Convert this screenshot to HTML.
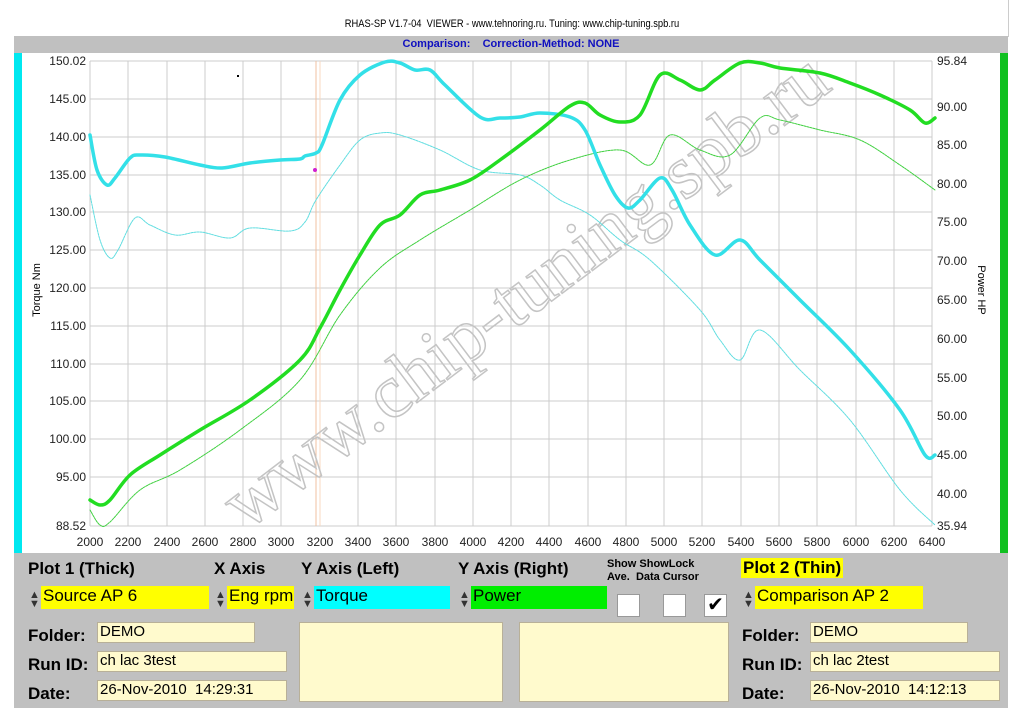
<!DOCTYPE html>
<html><head><style>
body{margin:0;width:1024px;height:723px;background:#fff;position:relative;overflow:hidden;font-family:"Liberation Sans",sans-serif}
.a{position:absolute}
.lbl{font-weight:bold;font-size:17px;color:#000}
.box{background:#fffacd;border:1px solid #b8b098;font-size:15px;padding-left:2px;box-sizing:border-box}
.sel{font-size:17px;box-sizing:border-box;padding-left:2px}
.arr{font-size:11px;line-height:9px;color:#333}
.cb{background:#fff;width:21px;height:21px;border:1px solid #999}
</style></head><body>
<div class="a" style="left:14px;top:0;width:994px;height:37px;border-right:1px solid #ccc"></div>
<div class="a" style="left:0;top:18px;width:1024px;text-align:center;font-size:11px;transform:scaleX(.85)">RHAS-SP V1.7-04&nbsp; VIEWER - www.tehnoring.ru. Tuning: www.chip-tuning.spb.ru</div>
<div class="a" style="left:14px;top:36px;width:994px;height:17px;background:#c0c0c0;text-align:center;font-size:11px;font-weight:bold;color:#1010c0;line-height:17px">Comparison:&nbsp;&nbsp;&nbsp;&nbsp;Correction-Method: NONE</div>
<div class="a" style="left:14px;top:53px;width:8px;height:500px;background:#00e8f0"></div>
<div class="a" style="left:1000px;top:53px;width:8px;height:500px;background:#10c020"></div>
<svg class="a" style="left:0;top:0" width="1024" height="723">
<g stroke="#ccc" stroke-width="1">
<line x1="90" y1="61" x2="90" y2="526"/><line x1="128" y1="61" x2="128" y2="526"/><line x1="167" y1="61" x2="167" y2="526"/><line x1="205" y1="61" x2="205" y2="526"/><line x1="243" y1="61" x2="243" y2="526"/><line x1="281" y1="61" x2="281" y2="526"/><line x1="320" y1="61" x2="320" y2="526"/><line x1="358" y1="61" x2="358" y2="526"/><line x1="396" y1="61" x2="396" y2="526"/><line x1="435" y1="61" x2="435" y2="526"/><line x1="473" y1="61" x2="473" y2="526"/><line x1="511" y1="61" x2="511" y2="526"/><line x1="549" y1="61" x2="549" y2="526"/><line x1="588" y1="61" x2="588" y2="526"/><line x1="626" y1="61" x2="626" y2="526"/><line x1="664" y1="61" x2="664" y2="526"/><line x1="702" y1="61" x2="702" y2="526"/><line x1="741" y1="61" x2="741" y2="526"/><line x1="779" y1="61" x2="779" y2="526"/><line x1="817" y1="61" x2="817" y2="526"/><line x1="856" y1="61" x2="856" y2="526"/><line x1="894" y1="61" x2="894" y2="526"/><line x1="932" y1="61" x2="932" y2="526"/>
<line x1="90" y1="61" x2="932" y2="61"/><line x1="90" y1="99" x2="932" y2="99"/><line x1="90" y1="137" x2="932" y2="137"/><line x1="90" y1="175" x2="932" y2="175"/><line x1="90" y1="212" x2="932" y2="212"/><line x1="90" y1="250" x2="932" y2="250"/><line x1="90" y1="288" x2="932" y2="288"/><line x1="90" y1="326" x2="932" y2="326"/><line x1="90" y1="364" x2="932" y2="364"/><line x1="90" y1="401" x2="932" y2="401"/><line x1="90" y1="439" x2="932" y2="439"/><line x1="90" y1="477" x2="932" y2="477"/><line x1="90" y1="526" x2="932" y2="526"/>
</g>
<line x1="316" y1="61" x2="316" y2="526" stroke="#f0c0a0"/><line x1="320" y1="61" x2="320" y2="526" stroke="#f8d8c0"/>
<g font-size="12" fill="#222" text-anchor="end">
<text x="86" y="65">150.02</text><text x="86" y="103">145.00</text><text x="86" y="141">140.00</text><text x="86" y="179">135.00</text><text x="86" y="216">130.00</text><text x="86" y="254">125.00</text><text x="86" y="292">120.00</text><text x="86" y="330">115.00</text><text x="86" y="368">110.00</text><text x="86" y="405">105.00</text><text x="86" y="443">100.00</text><text x="86" y="481">95.00</text><text x="86" y="530">88.52</text>
</g>
<g font-size="12" fill="#222">
<text x="937" y="65">95.84</text><text x="937" y="111">90.00</text><text x="937" y="149">85.00</text><text x="937" y="188">80.00</text><text x="937" y="226">75.00</text><text x="937" y="265">70.00</text><text x="937" y="304">65.00</text><text x="937" y="343">60.00</text><text x="937" y="382">55.00</text><text x="937" y="420">50.00</text><text x="937" y="459">45.00</text><text x="937" y="498">40.00</text><text x="937" y="530">35.94</text>
</g>
<g font-size="12" fill="#222" text-anchor="middle">
<text x="90" y="546">2000</text><text x="128" y="546">2200</text><text x="167" y="546">2400</text><text x="205" y="546">2600</text><text x="243" y="546">2800</text><text x="281" y="546">3000</text><text x="320" y="546">3200</text><text x="358" y="546">3400</text><text x="396" y="546">3600</text><text x="435" y="546">3800</text><text x="473" y="546">4000</text><text x="511" y="546">4200</text><text x="549" y="546">4400</text><text x="588" y="546">4600</text><text x="626" y="546">4800</text><text x="664" y="546">5000</text><text x="702" y="546">5200</text><text x="741" y="546">5400</text><text x="779" y="546">5600</text><text x="817" y="546">5800</text><text x="856" y="546">6000</text><text x="894" y="546">6200</text><text x="932" y="546">6400</text>
</g>
<text transform="translate(40,290) rotate(-90)" font-size="11" text-anchor="middle">Torque Nm</text>
<text transform="translate(978,290) rotate(90)" font-size="11" text-anchor="middle">Power HP</text>
<text transform="translate(540,310) rotate(-37)" font-size="76" font-family="Liberation Serif,serif" fill="none" stroke="#c4c4c4" stroke-width="1.5" text-anchor="middle">www.chip-tuning.spb.ru</text>
<g fill="none" stroke-linejoin="round" stroke-linecap="round">
<path id="p1" stroke="#60dde0" stroke-width="1" stroke-dasharray="2,1" data-p="90,195 100,240 110,258 118,250 135,218 150,225 175,235 200,232 230,238 250,228 290,231 305,222 316,200 340,165 360,140 380,133 400,135 440,150 480,170 520,175 540,185 560,200 590,215 620,240 650,260 700,310 720,340 740,360 760,330 800,370 850,420 900,490 935,525"/>
<path id="p2" stroke="#40d040" stroke-width="1" stroke-dasharray="2,1" data-p="90,510 100,525 110,522 140,490 180,470 240,430 300,380 340,315 380,268 420,240 470,210 520,180 570,160 620,150 650,165 670,135 700,150 730,155 760,118 780,120 820,130 860,140 900,165 935,190"/>
<path id="p3" stroke="#33e0e8" stroke-width="3.5" data-p="90,135 97,170 107,185 115,178 130,158 140,155 165,157 200,165 222,168 250,163 280,160 300,159 305,156 316,153 322,145 340,100 360,75 385,62 400,63 415,70 430,70 445,85 480,117 500,118 520,117 540,113 570,117 585,130 600,165 615,195 628,208 640,200 660,178 672,190 690,225 715,255 740,240 760,260 800,300 850,350 900,410 925,455 935,455"/>
<path id="p4" stroke="#22dd22" stroke-width="3.5" data-p="90,500 100,505 110,500 130,475 160,455 200,430 250,400 300,360 320,328 340,290 360,255 380,225 400,215 420,195 440,190 470,180 500,160 540,130 570,106 585,103 600,115 620,122 640,115 660,75 680,80 700,90 715,80 740,63 760,63 780,68 820,73 850,83 880,95 910,110 925,123 935,118"/>
</g>
<circle cx="315" cy="170" r="2" fill="#d020d0"/>
<rect x="237" y="75" width="2" height="2" fill="#000"/>
</svg>
<script>
document.querySelectorAll('path[data-p]').forEach(function(el){
var p=el.getAttribute('data-p').split(' ').map(function(s){return s.split(',').map(Number)});
var d='M'+p[0][0]+','+p[0][1];
for(var i=0;i<p.length-1;i++){
var p0=p[i-1]||p[i],p1=p[i],p2=p[i+1],p3=p[i+2]||p2;
var c1x=p1[0]+(p2[0]-p0[0])/6,c1y=p1[1]+(p2[1]-p0[1])/6,c2x=p2[0]-(p3[0]-p1[0])/6,c2y=p2[1]-(p3[1]-p1[1])/6;
d+=' C'+c1x+','+c1y+' '+c2x+','+c2y+' '+p2[0]+','+p2[1];}
el.setAttribute('d',d);el.removeAttribute('data-p');});
</script>
<div class="a" style="left:14px;top:553px;width:994px;height:155px;background:#c0c0c0"></div>
<div class="a lbl" style="left:28px;top:559px">Plot 1 (Thick)</div>
<div class="a lbl" style="left:214px;top:559px">X Axis</div>
<div class="a lbl" style="left:301px;top:559px">Y Axis (Left)</div>
<div class="a lbl" style="left:458px;top:559px">Y Axis (Right)</div>
<div class="a" style="left:607px;top:558px;font-size:11px;font-weight:bold;line-height:13px">Show ShowLock<br>Ave.&nbsp; Data Cursor</div>
<div class="a lbl" style="left:741px;top:558px;background:#ffff00;padding:0 2px">Plot 2 (Thin)</div>
<div class="a arr" style="left:29px;top:591px">▲<br>▼</div>
<div class="a sel" style="left:41px;top:586px;width:168px;height:23px;background:#ffff00">Source AP 6</div>
<div class="a arr" style="left:215px;top:591px">▲<br>▼</div>
<div class="a sel" style="left:227px;top:586px;width:67px;height:23px;background:#ffff00">Eng rpm</div>
<div class="a arr" style="left:302px;top:591px">▲<br>▼</div>
<div class="a sel" style="left:314px;top:586px;width:136px;height:23px;background:#00ffff">Torque</div>
<div class="a arr" style="left:459px;top:591px">▲<br>▼</div>
<div class="a sel" style="left:471px;top:586px;width:136px;height:23px;background:#00ee00">Power</div>
<div class="a cb" style="left:617px;top:594px"></div>
<div class="a cb" style="left:663px;top:594px"></div>
<div class="a cb" style="left:704px;top:594px;font-size:20px;line-height:21px;text-align:center">✔</div>
<div class="a arr" style="left:743px;top:591px">▲<br>▼</div>
<div class="a sel" style="left:755px;top:586px;width:168px;height:23px;background:#ffff00">Comparison AP 2</div>
<div class="a lbl" style="left:28px;top:626px">Folder:</div>
<div class="a lbl" style="left:28px;top:655px">Run ID:</div>
<div class="a lbl" style="left:28px;top:684px">Date:</div>
<div class="a box" style="left:97px;top:622px;width:158px;height:21px">DEMO</div>
<div class="a box" style="left:97px;top:651px;width:190px;height:21px">ch lac 3test</div>
<div class="a box" style="left:97px;top:680px;width:190px;height:21px">26-Nov-2010&nbsp; 14:29:31</div>
<div class="a box" style="left:299px;top:622px;width:204px;height:80px"></div>
<div class="a box" style="left:519px;top:622px;width:210px;height:80px"></div>
<div class="a lbl" style="left:742px;top:626px">Folder:</div>
<div class="a lbl" style="left:742px;top:655px">Run ID:</div>
<div class="a lbl" style="left:742px;top:684px">Date:</div>
<div class="a box" style="left:810px;top:622px;width:158px;height:21px">DEMO</div>
<div class="a box" style="left:810px;top:651px;width:190px;height:21px">ch lac 2test</div>
<div class="a box" style="left:810px;top:680px;width:190px;height:21px">26-Nov-2010&nbsp; 14:12:13</div>
</body></html>
